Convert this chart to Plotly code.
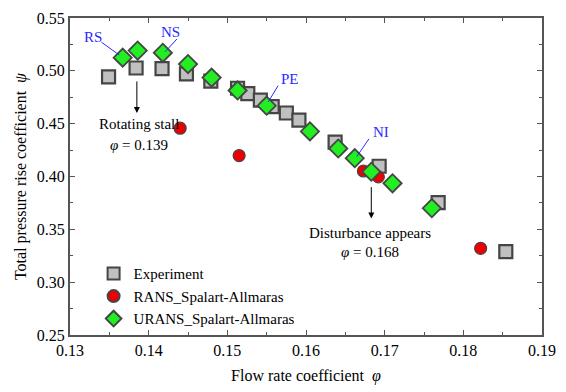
import plotly.graph_objects as go

exp_x = [0.1349, 0.1384, 0.1417, 0.1448, 0.1479, 0.1513, 0.1526, 0.1542, 0.1557, 0.1575, 0.1591, 0.1637, 0.1693, 0.1768, 0.1854]
exp_y = [0.4942, 0.5027, 0.5021, 0.4972, 0.4903, 0.4835, 0.4784, 0.4722, 0.4661, 0.4601, 0.4533, 0.4326, 0.4097, 0.3753, 0.3289]

rans_x = [0.1440, 0.1515, 0.1673, 0.1692, 0.1822]
rans_y = [0.4457, 0.4198, 0.4052, 0.3997, 0.3320]

urans_x = [0.1367, 0.1386, 0.1418, 0.1450, 0.1480, 0.1513, 0.1550, 0.1605, 0.1641, 0.1662, 0.1683, 0.1710, 0.1760]
urans_y = [0.5125, 0.5192, 0.5171, 0.5064, 0.4936, 0.4814, 0.4670, 0.4427, 0.4265, 0.4173, 0.4045, 0.3936, 0.3700]

x_ticks = [0.13, 0.14, 0.15, 0.16, 0.17, 0.18, 0.19]
y_ticks = [0.25, 0.30, 0.35, 0.40, 0.45, 0.50, 0.55]

FONT = "Liberation Serif"
EDGE = "#454545"

fig = go.Figure()
fig.add_trace(go.Scatter(x=exp_x, y=exp_y, mode="markers", name="Experiment",
                         marker=dict(symbol="square", size=13, color="#c0c0c0",
                                     line=dict(color=EDGE, width=2.2))))
fig.add_trace(go.Scatter(x=rans_x, y=rans_y, mode="markers", name="RANS_Spalart-Allmaras",
                         marker=dict(symbol="circle", size=12, color="#ee0000",
                                     line=dict(color=EDGE, width=1.2))))
fig.add_trace(go.Scatter(x=urans_x, y=urans_y, mode="markers", name="URANS_Spalart-Allmaras",
                         marker=dict(symbol="diamond", size=14, color="#22ee22",
                                     line=dict(color=EDGE, width=1.8))))

ann = []
def txt(x, y, t, color="black"):
    ann.append(dict(x=x, y=y, xref="x", yref="y", text=t, showarrow=False,
                    font=dict(family=FONT, size=15, color=color)))

def arrow(x, y0, y1):
    ann.append(dict(x=x, y=y1, ax=x, ay=y0, xref="x", yref="y", axref="x", ayref="y",
                    text="", showarrow=True, arrowhead=2, arrowsize=1.2, arrowwidth=1,
                    arrowcolor="black"))

BLUE = "#2a2aff"
txt(0.13288, 0.5317, "RS", BLUE)
txt(0.14275, 0.5372, "NS", BLUE)
txt(0.1580, 0.4924, "PE", BLUE)
txt(0.1695, 0.4420, "NI", BLUE)
txt(0.13875, 0.4494, "Rotating stall")
txt(0.13875, 0.4301, "<i>φ</i> = 0.139")
txt(0.16813, 0.3469, "Disturbance appears")
txt(0.16813, 0.3286, "<i>φ</i> = 0.168")
arrow(0.1385, 0.4914, 0.4601)
arrow(0.1683, 0.3914, 0.3603)

shapes = []
for (x0, y0, x1, y1) in [(0.1340, 0.5271, 0.13625, 0.5150),
                         (0.14359, 0.5301, 0.14209, 0.5180),
                         (0.15646, 0.4860, 0.15521, 0.4707),
                         (0.1680, 0.4356, 0.16646, 0.4189)]:
    shapes.append(dict(type="line", xref="x", yref="y", x0=x0, y0=y0, x1=x1, y1=y1,
                       line=dict(color=BLUE, width=1)))

axis_common = dict(showgrid=False, zeroline=False, showline=True, linecolor="#555555",
                   linewidth=2, mirror="ticks", ticks="inside", ticklen=5, tickwidth=1.2,
                   tickcolor="#555555", tickfont=dict(family=FONT, size=16, color="black"))

fig.update_layout(
    width=566, height=392,
    margin=dict(l=70, r=16, t=10, b=54),
    paper_bgcolor="white", plot_bgcolor="white",
    font=dict(family=FONT, size=15, color="black"),
    xaxis=dict(range=[0.13, 0.19], tickvals=x_ticks, ticktext=[f"{v:g}" for v in x_ticks],
               title=dict(text="Flow rate coefficient  <i>φ</i>", font=dict(family=FONT, size=16), standoff=12),
               minor=dict(ticks="inside", ticklen=3, dtick=0.005, tickcolor="#555555"),
               **axis_common),
    yaxis=dict(range=[0.25, 0.55], tickvals=y_ticks, ticktext=[f"{v:.2f}" for v in y_ticks],
               title=dict(text="Total pressure rise coefficient  <i>ψ</i>", font=dict(family=FONT, size=16), standoff=6),
               minor=dict(ticks="inside", ticklen=3, dtick=0.025, tickcolor="#555555"),
               **axis_common),
    legend=dict(x=0.05, y=0.245, xanchor="left", yanchor="top", bgcolor="rgba(0,0,0,0)",
                font=dict(family=FONT, size=15), itemsizing="constant", tracegroupgap=0),
    annotations=ann, shapes=shapes,
)

fig.write_html("out.html")
